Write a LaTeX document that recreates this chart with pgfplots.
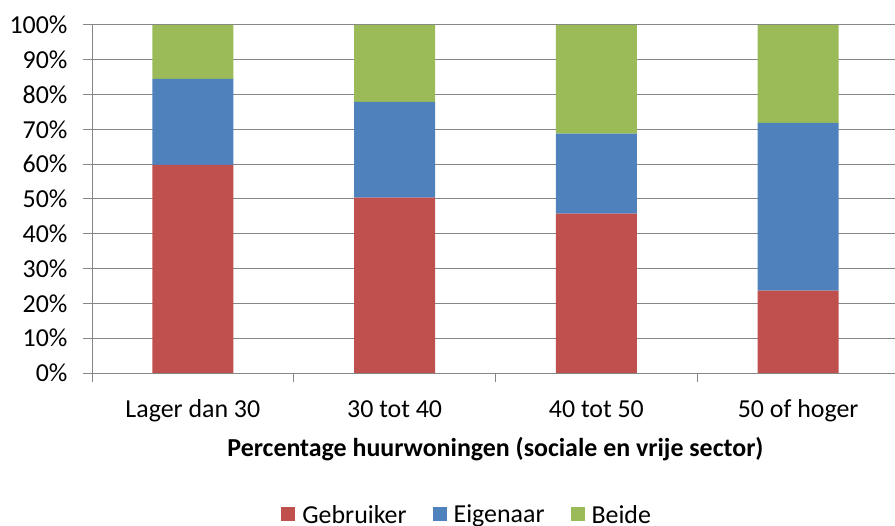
\documentclass[border=0pt]{standalone}
\usepackage{pgfplots}
\pgfplotsset{compat=1.18}
\usepackage{fontspec}
\setmainfont{Carlito}

\definecolor{serRed}{HTML}{C0504D}
\definecolor{serBlue}{HTML}{4F81BD}
\definecolor{serGreen}{HTML}{9BBB59}
\definecolor{axGray}{HTML}{868686}

\newcommand{\chartfont}{\fontsize{26}{31}\selectfont}

\begin{document}
\begin{tikzpicture}
\path[use as bounding box] (0bp,0bp) rectangle (895bp,526bp);
\begin{axis}[
  at={(92bp,153bp)}, anchor=south west,
  scale only axis, width=807bp, height=348bp,
  ybar stacked, bar width=81bp,
  xmin=-0.5, xmax=3.5, ymin=0, ymax=100,
  axis x line*=bottom, axis y line*=left,
  axis line style={axGray, line width=1bp, -},
  every tick/.style={axGray, line width=1bp},
  tick align=outside,
  major tick length=9bp,
  ytick={0,10,...,100},
  yticklabel={\pgfmathprintnumber{\tick}\%},
  yticklabel style={anchor=east, xshift=-12bp},
  ymajorgrids,
  grid style={axGray, line width=1bp},
  xtick={-0.5,0.5,1.5,2.5,3.5},
  xticklabels={,,,,},
  extra x ticks={0,1,2,3},
  extra x tick labels={Lager dan 30,30 tot 40,40 tot 50,50 of hoger},
  extra x tick style={major tick length=0bp, grid=none,
    xticklabel style={anchor=base, yshift=-44bp}},
  /pgf/number format/assume math mode=true,
  tick label style={font=\chartfont, text=black},
  xlabel={\textbf{Percentage huurwoningen (sociale en vrije sector)}},
  xlabel style={font=\chartfont, anchor=base, at={(axis description cs:0.5,-0.241)}},
  legend columns=3,
  legend style={draw=none, fill=none, font=\chartfont,
    at={(axis description cs:0.468,-0.4075)}, anchor=center,
    inner sep=0pt,
    nodes={inner xsep=7bp, inner ysep=0bp},
    /tikz/every even column/.append style={column sep=19bp}},
  legend image code/.code={\fill[#1] (0bp,-6bp) rectangle (14bp,8bp);},
]
\addplot[fill=serRed, draw=none] coordinates {(0,59.8) (1,50.4) (2,45.8) (3,23.7)};
\addplot[fill=serBlue, draw=none] coordinates {(0,24.7) (1,27.5) (2,23.0) (3,48.2)};
\addplot[fill=serGreen, draw=none] coordinates {(0,15.5) (1,22.1) (2,31.2) (3,28.1)};
\legend{Gebruiker,Eigenaar,Beide}
\end{axis}
\end{tikzpicture}
\end{document}
